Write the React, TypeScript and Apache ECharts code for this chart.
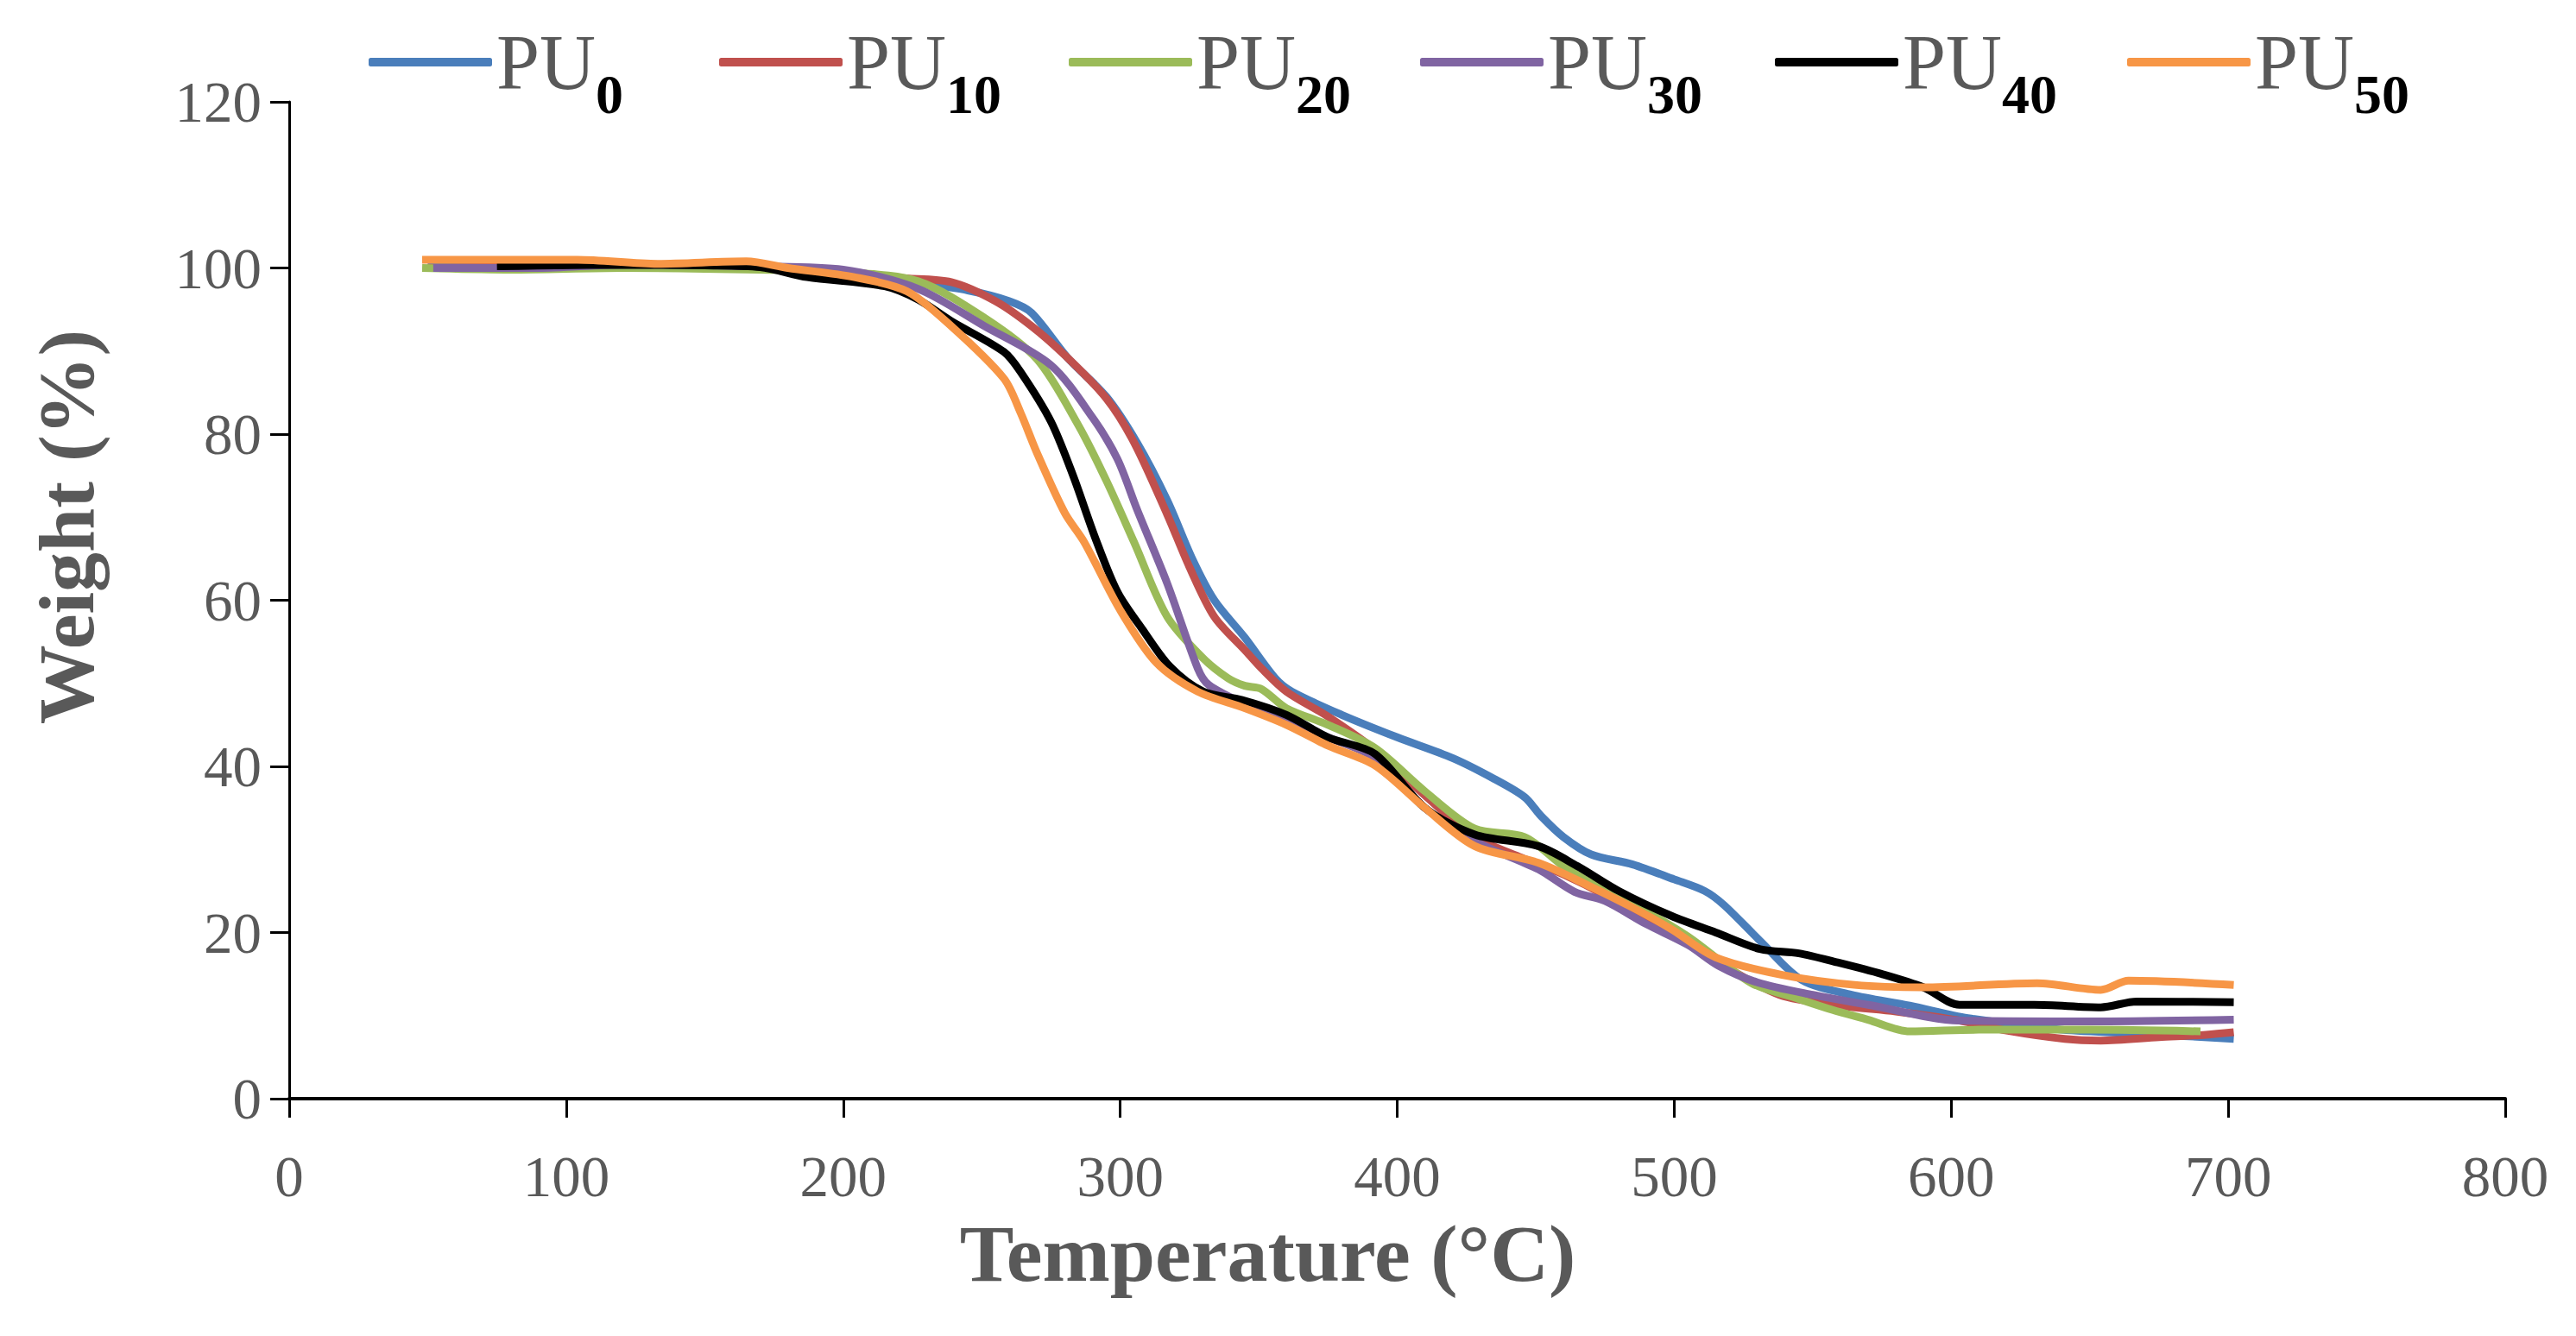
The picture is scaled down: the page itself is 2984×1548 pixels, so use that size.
import { useEffect, useRef } from 'react'
import * as echarts from 'echarts'

const seriesNames = ['PU0', 'PU10', 'PU20', 'PU30', 'PU40', 'PU50']
const seriesColors = ['#4a7ebb', '#c0504d', '#9bbb59', '#8064a2', '#000000', '#f79646']

const xTicks = [0, 100, 200, 300, 400, 500, 600, 700, 800]
const yTicks = [0, 20, 40, 60, 80, 100, 120]

// [temperature °C, weight %]
const pu0: number[][] = [
  [50, 100.3], [80, 100.3], [110, 100.6], [140, 100.3], [170, 100.2], [200, 99.5],
  [225, 98.3], [245, 97.3], [260, 96], [268, 94.6], [281, 89.2], [295, 84.5],
  [306, 79], [317, 72], [326, 65], [334, 60], [345, 55.5], [356, 50.6], [362, 49],
  [380, 46.2], [400, 43.5], [420, 41], [435, 38.5], [446, 36.3], [452, 34],
  [460, 31.5], [470, 29.4], [485, 28.2], [500, 26.4], [511, 25], [518, 23.3],
  [531, 19], [546, 14.3], [564, 12.5], [585, 11.2], [606, 9.7], [640, 8.3],
  [670, 7.8], [702, 7.2],
]
const pu10: number[][] = [
  [50, 100], [100, 100.2], [150, 100.3], [180, 100], [200, 99.6], [220, 98.8],
  [239, 98.3], [255, 96], [268, 93], [280, 89.5], [295, 84.3], [305, 79],
  [317, 70.3], [325, 64], [334, 58], [345, 54], [351, 51.8], [360, 49], [375, 46],
  [392, 42], [410, 36.5], [428, 31.5], [445, 29], [460, 27], [475, 24.5],
  [490, 21.5], [505, 18.8], [518, 16], [538, 12.5], [560, 11.2], [580, 10.5],
  [603, 9.4], [620, 8.2], [641, 7.2], [654, 7], [675, 7.4], [692, 7.7], [702, 8],
]
const pu20: number[][] = [
  [48, 100], [80, 99.8], [120, 100], [170, 99.8], [200, 99.5], [227, 98.4],
  [251, 94], [270, 89], [285, 81], [295, 74.4], [305, 67], [317, 58], [330, 53],
  [339, 50.6], [345, 49.7], [351, 49.3], [360, 47], [375, 45], [392, 42.2],
  [410, 37], [428, 32.5], [446, 31.5], [460, 28], [475, 25], [490, 22.5],
  [505, 19.5], [528, 13.9], [545, 12], [557, 10.7], [570, 9.5], [585, 8.1],
  [610, 8.3], [650, 8.3], [690, 8.1],
]
const pu30: number[][] = [
  [52, 100], [90, 100], [120, 100.4], [170, 100.2], [200, 99.8], [227, 97.5],
  [251, 93], [275, 88.3], [290, 82], [299, 77], [306, 71], [317, 62], [328, 51.8],
  [332, 49.8], [345, 47.5], [360, 45.5], [375, 43.5], [392, 41], [410, 35],
  [428, 31], [451, 27.6], [464, 24.9], [475, 23.8], [490, 21], [505, 18.5],
  [516, 16], [530, 14], [550, 12.5], [570, 11.3], [603, 9.4], [650, 9.3],
  [702, 9.5],
]
const pu40: number[][] = [
  [75, 100.2], [120, 100.4], [150, 100.3], [170, 100.1], [187, 98.9], [215, 97.8],
  [227, 96.2], [239, 93.6], [258, 89.9], [264, 87.5], [275, 81.5], [283, 75],
  [291, 67.5], [299, 61], [308, 56.5], [318, 52], [330, 49], [344, 48], [360, 46.2],
  [375, 43.5], [392, 41.5], [410, 35], [428, 31.8], [451, 30.4], [465, 28],
  [480, 25], [499, 22], [515, 20], [531, 18], [545, 17.5], [559, 16.4],
  [575, 15], [590, 13.4], [603, 11.3], [630, 11.3], [654, 11], [667, 11.7],
  [702, 11.6],
]
const pu50: number[][] = [
  [48, 101], [104, 101], [133, 100.5], [165, 100.8], [180, 100], [204, 98.9],
  [223, 97.2], [239, 93], [258, 86.7], [264, 82.6], [270, 77.7], [280, 70.5],
  [287, 67], [300, 58.8], [313, 52.5], [328, 49], [345, 47], [360, 45],
  [375, 42.5], [392, 40.1], [410, 35], [428, 30.4], [451, 28.4], [470, 25.5],
  [485, 23], [499, 20.4], [515, 17], [539, 14.9], [565, 13.7], [590, 13.4],
  [631, 13.9], [654, 13.1], [664, 14.2], [702, 13.7],
]
const seriesData = [pu0, pu10, pu20, pu30, pu40, pu50]

const FONT = '"Liberation Serif", "Times New Roman", serif'
const legendLeft = [422, 828, 1233, 1640, 2051, 2459]

export default function App() {
  const chartRef = useRef<HTMLDivElement>(null)

  useEffect(() => {
    document.body.style.margin = '0'
    if (!chartRef.current) return
    const chart = echarts.init(chartRef.current, undefined, { renderer: 'svg' })

    chart.setOption({
      animation: false,
      backgroundColor: '#ffffff',
      grid: { left: 335, right: 82, top: 118, bottom: 275, containLabel: false },
      legend: seriesNames.map((name, i) => ({
        data: [{ name, icon: 'roundRect' }],
        left: legendLeft[i],
        top: 22,
        itemWidth: 143,
        itemHeight: 10,
        formatter: (n: string) => `PU{sub|${n.slice(2)}}`,
        textStyle: {
          fontFamily: FONT,
          fontSize: 90,
          color: '#595959',
          rich: {
            sub: {
              fontFamily: FONT,
              fontSize: 64,
              fontWeight: 'bold',
              color: '#000000',
              padding: [74, 0, 0, 0],
            },
          },
        },
      })),
      xAxis: {
        type: 'value',
        min: xTicks[0],
        max: xTicks[xTicks.length - 1],
        interval: 100,
        name: 'Temperature (°C)',
        nameLocation: 'middle',
        nameGap: 132,
        nameTextStyle: {
          fontFamily: FONT,
          fontSize: 94,
          fontWeight: 'bold',
          color: '#595959',
          padding: [0, 300, 0, 0],
        },
        axisLine: { show: true, lineStyle: { color: '#000', width: 4 } },
        axisTick: { show: true, inside: false, length: 22, lineStyle: { color: '#000', width: 3 } },
        axisLabel: { fontFamily: FONT, fontSize: 67, color: '#595959', margin: 56 },
        splitLine: { show: false },
      },
      yAxis: {
        type: 'value',
        min: yTicks[0],
        max: yTicks[yTicks.length - 1],
        interval: 20,
        name: 'Weight (%)',
        nameLocation: 'middle',
        nameGap: 212,
        nameTextStyle: {
          fontFamily: FONT,
          fontSize: 92,
          fontWeight: 'bold',
          color: '#595959',
          padding: [0, 0, 0, 170],
        },
        axisLine: { show: true, lineStyle: { color: '#000', width: 3 } },
        axisTick: { show: true, inside: false, length: 22, lineStyle: { color: '#000', width: 3 } },
        axisLabel: { fontFamily: FONT, fontSize: 67, color: '#595959', margin: 32 },
        splitLine: { show: false },
      },
      series: seriesNames.map((name, i) => ({
        name,
        type: 'line',
        data: seriesData[i],
        smooth: 0.3,
        symbol: 'none',
        showSymbol: false,
        lineStyle: { color: seriesColors[i], width: 9 },
        itemStyle: { color: seriesColors[i] },
      })),
    })

    return () => {
      chart.dispose()
    }
  }, [])

  return <div ref={chartRef} style={{ width: '2984px', height: '1548px' }}></div>
}
